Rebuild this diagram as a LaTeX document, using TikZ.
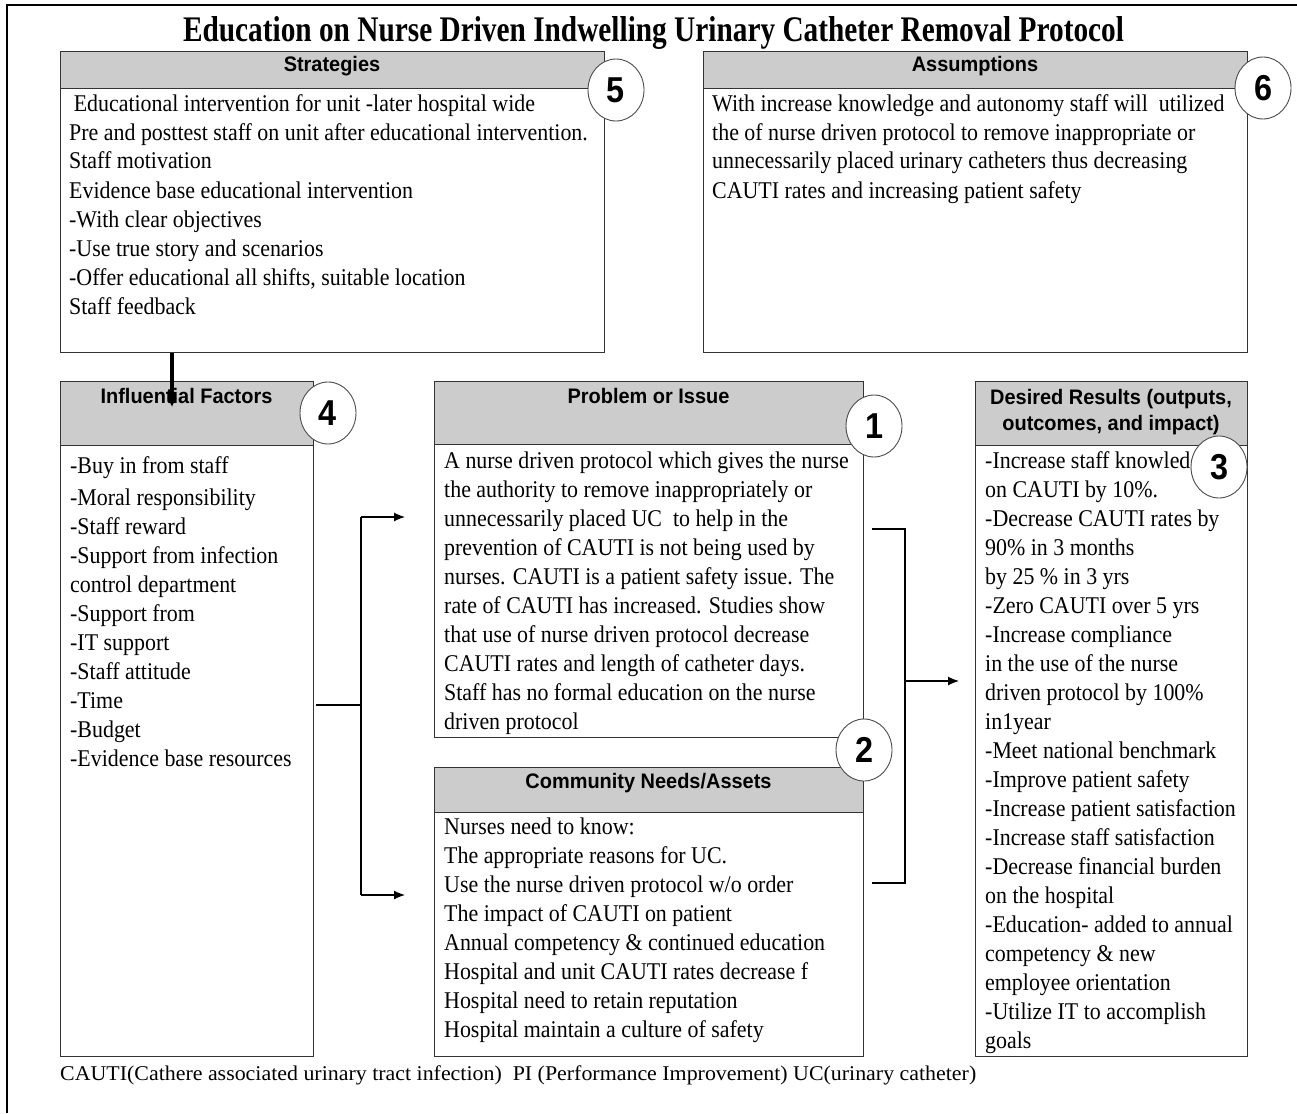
\documentclass[tikz,border=0pt]{standalone}
\usepackage{fontspec}
\usepackage{graphicx}
\setmainfont{Liberation Serif}
\setsansfont{Liberation Sans}
\usetikzlibrary{shapes.geometric,arrows.meta}
\newcommand\bodylines[1]{\scalebox{0.913}[1]{\begin{tabular}[t]{@{}l@{}}#1\end{tabular}}}
\newcommand\hdrline[1]{\scalebox{0.95}[1]{\begin{tabular}[t]{@{}c@{}}#1\end{tabular}}}
\begin{document}
\begin{tikzpicture}[x=1pt,y=-1pt,
  box/.style={draw=black!80, line width=1.3pt, fill=white, inner sep=0pt, anchor=north west},
  hdr/.style={draw=black!80, line width=1.3pt, fill=black!20, inner sep=0pt, anchor=north west},
  hdrtxt/.style={font=\sffamily\bfseries\fontsize{21pt}{26pt}\selectfont, inner sep=0pt, anchor=base},
  body/.style={font=\fontsize{24pt}{29pt}\selectfont, inner sep=0pt, anchor=base west},
  num/.style={ellipse, draw=black!70, line width=0.9pt, fill=white, minimum width=56pt, minimum height=62pt, inner sep=0pt, font=\sffamily\bfseries\fontsize{36pt}{36pt}\selectfont},
  conn/.style={line width=1.2pt},
  arr/.style={line width=1.2pt, -{Latex[length=11pt,width=9pt]}},
  bigarr/.style={line width=3.5pt, -{Latex[length=9pt,width=10pt]}}
]
\useasboundingbox (0,0) rectangle (1297,1113);
\fill[white] (0,0) rectangle (1297,1113);
% outer frame
\draw[line width=1.5pt] (7,1113) -- (7,5) -- (1297,5);

% title
\node[inner sep=0pt, anchor=base, font=\bfseries\fontsize{36pt}{40pt}\selectfont] (title) at (653.5,42)
  {\resizebox{941pt}{\height}{Education on Nurse Driven Indwelling Urinary Catheter Removal Protocol}};

% boxes
\node[box, minimum width=544pt, minimum height=301pt] (strat) at (60,51) {};
\node[hdr, minimum width=544pt, minimum height=37pt] (stratH) at (60,51) {};
\node[box, minimum width=544pt, minimum height=301pt] (assum) at (703,51) {};
\node[hdr, minimum width=544pt, minimum height=37pt] (assumH) at (703,51) {};
\node[box, minimum width=253pt, minimum height=675pt] (infl) at (60,381) {};
\node[hdr, minimum width=253pt, minimum height=64pt] (inflH) at (60,381) {};
\node[box, minimum width=429pt, minimum height=356pt] (prob) at (434,381) {};
\node[hdr, minimum width=429pt, minimum height=63pt] (probH) at (434,381) {};
\node[box, minimum width=429pt, minimum height=289pt] (comm) at (434,767) {};
\node[hdr, minimum width=429pt, minimum height=45pt] (commH) at (434,767) {};
\node[box, minimum width=272pt, minimum height=675pt] (res) at (975,381) {};
\node[hdr, minimum width=272pt, minimum height=64pt] (resH) at (975,381) {};

% header texts
\node[hdrtxt] (stratT) at (332,72) {\hdrline{Strategies}};
\node[hdrtxt] (assumT) at (975,72) {\hdrline{Assumptions}};
\node[hdrtxt] (inflT) at (186.5,403) {\hdrline{Influential Factors}};
\node[hdrtxt] (probT) at (648.5,403) {\hdrline{Problem or Issue}};
\node[hdrtxt] (commT) at (648.5,788) {\hdrline{Community Needs/Assets}};
\node[hdrtxt] (resT) at (1111,404) {\hdrline{Desired Results (outputs,\\ outcomes, and impact)}};

% body texts
\node[body] (stratB) at (69,111) {\bodylines{\hspace{5pt}Educational intervention for unit -later hospital wide\\
Pre and posttest staff on unit after educational intervention.\\
Staff motivation\\
Evidence base educational intervention\\
-With clear objectives\\
-Use true story and scenarios\\
-Offer educational all shifts, suitable location\\
Staff feedback}};
\node[body] (assumB) at (712,111) {\bodylines{With increase knowledge and autonomy staff will \ utilized\\
the of nurse driven protocol to remove inappropriate or\\
unnecessarily placed urinary catheters thus decreasing\\
CAUTI rates and increasing patient safety}};
\node[body] (inflB) at (70,473) {\bodylines{-Buy in from staff\\[3pt]
-Moral responsibility\\
-Staff reward\\
-Support from infection\\
control department\\
-Support from\\
-IT support\\
-Staff attitude\\
-Time\\
-Budget\\
-Evidence base resources}};
\node[body] (probB) at (444,468) {\bodylines{A nurse driven protocol which gives the nurse\\
the authority to remove inappropriately or\\
unnecessarily placed UC \ to help in the\\
prevention of CAUTI is not being used by\\
nurses. CAUTI is a patient safety issue. The\\
rate of CAUTI has increased. Studies show\\
that use of nurse driven protocol decrease\\
CAUTI rates and length of catheter days.\\
Staff has no formal education on the nurse\\
driven protocol}};
\node[body] (commB) at (444,834) {\bodylines{Nurses need to know:\\
The appropriate reasons for UC.\\
Use the nurse driven protocol w/o order\\
The impact of CAUTI on patient\\
Annual competency \& continued education\\
Hospital and unit CAUTI rates decrease f\\
Hospital need to retain reputation\\
Hospital maintain a culture of safety}};
\node[body] (resB) at (985,468) {\bodylines{-Increase staff knowledge\\
on CAUTI by 10\%.\\
-Decrease CAUTI rates by\\
90\% in 3 months\\
by 25 \% in 3 yrs\\
-Zero CAUTI over 5 yrs\\
-Increase compliance\\
in the use of the nurse\\
driven protocol by 100\%\\
in1year\\
-Meet national benchmark\\
-Improve patient safety\\
-Increase patient satisfaction\\
-Increase staff satisfaction\\
-Decrease financial burden\\
on the hospital\\
-Education- added to annual\\
competency \& new\\
employee orientation\\
-Utilize IT to accomplish\\
goals}};

% footer
\node[inner sep=0pt, anchor=base west, font=\fontsize{21pt}{25pt}\selectfont] (foot) at (60,1080)
  {\resizebox{916pt}{\height}{CAUTI(Cathere associated urinary tract infection)\ \ PI (Performance Improvement) UC(urinary catheter)}};

% connectors
\coordinate (j1) at (361,705);
\coordinate (j1top) at (361,517);
\coordinate (j1bot) at (361,895);
\coordinate (bk) at (905,681);
\draw[bigarr] ([xshift=112pt]strat.south west) -- ([xshift=112pt,yshift=-26pt]infl.north west);
\draw[conn] ([xshift=2pt]infl.east |- j1) -- (j1);
\draw[conn] (j1top) -- (j1bot);
\draw[arr, shorten >=29pt] (j1top) -- (prob.west |- j1top);
\draw[arr, shorten >=29pt] (j1bot) -- (comm.west |- j1bot);
\draw[conn] ([xshift=8pt]prob.east |- 0,529) -| (bk) |- ([xshift=8pt]comm.east |- 0,883);
\draw[arr, shorten >=16pt] (bk) -- (res.west |- bk);

% number badges
\node[num] (n5) at (616,90) {\scalebox{0.9}[1]{5}};
\node[num] (n6) at (1263,88) {\scalebox{0.9}[1]{6}};
\node[num] (n4) at (328,413) {\scalebox{0.9}[1]{4}};
\node[num] (n1) at (874,426) {\scalebox{0.9}[1]{1}};
\node[num] (n2) at (864,750) {\scalebox{0.9}[1]{2}};
\node[num] (n3) at (1219,467) {\scalebox{0.9}[1]{3}};
\end{tikzpicture}
\end{document}
